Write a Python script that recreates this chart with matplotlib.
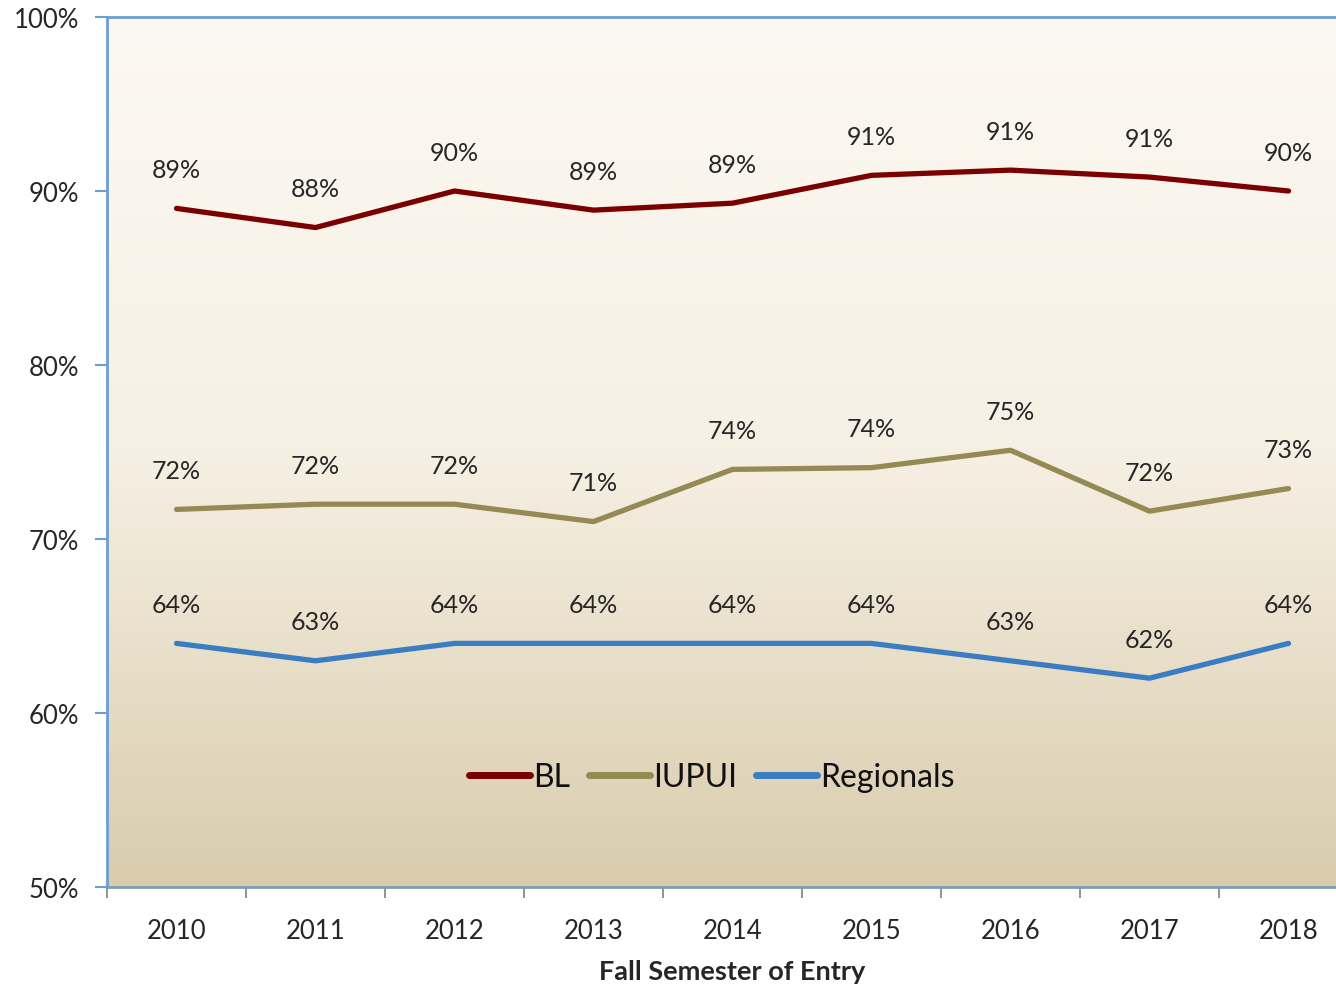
import matplotlib
matplotlib.use("Agg")
import matplotlib.pyplot as plt
import numpy as np
from matplotlib.colors import LinearSegmentedColormap

years = ["2010", "2011", "2012", "2013", "2014", "2015", "2016", "2017", "2018"]
bl = [89.0, 87.9, 90.0, 88.9, 89.3, 90.9, 91.2, 90.8, 90.0]
iupui = [71.7, 72.0, 72.0, 71.0, 74.0, 74.1, 75.1, 71.6, 72.9]
regionals = [64.0, 63.0, 64.0, 64.0, 64.0, 64.0, 63.0, 62.0, 64.0]
series_names = ["BL", "IUPUI", "Regionals"]
series_colors = ["#7b0000", "#948a54", "#3a7dc2"]

plt.rcParams['font.family'] = ['Lato', 'DejaVu Sans']

W, H = 1336, 987
fig = plt.figure(figsize=(W / 100, H / 100), dpi=100)
left_px, right_px, top_px, bot_px = 107, 1358, 18, 888
ax = fig.add_axes([left_px / W, 1 - bot_px / H, (right_px - left_px) / W, (bot_px - top_px) / H])

# gradient background
grad = np.linspace(0, 1, 256).reshape(-1, 1)
cmap = LinearSegmentedColormap.from_list("bg", ["#fcf9f2", "#f6f0e4", "#d9ccad"])
ax.imshow(grad, extent=[-0.5, 8.5, 50, 100], origin='upper', aspect='auto', cmap=cmap, zorder=0)
ax.set_xlim(-0.5, 8.5)
ax.set_ylim(50, 100)

x = np.arange(len(years))
for vals, name, col in zip([bl, iupui, regionals], series_names, series_colors):
    ax.plot(x, vals, color=col, lw=3.8, label=name, solid_capstyle='round', zorder=3)
    for xi, v in zip(x, vals):
        ax.annotate(f"{round(v):.0f}%", (xi, v), xytext=(0, 28), textcoords='offset points',
                    ha='center', va='center', fontsize=18, color='#262626', zorder=4)

ax.set_yticks([50, 60, 70, 80, 90, 100])
ax.set_yticklabels([f"{v}%" for v in [50, 60, 70, 80, 90, 100]], fontsize=18.5, color='#262626')
ax.set_xticks(x)
ax.set_xticklabels(years, fontsize=18.5, color='#262626')
ax.set_xticks(np.arange(-0.5, 9.0, 1.0), minor=True)
ax.tick_params(axis='x', which='major', length=0, pad=22)
ax.tick_params(axis='x', which='minor', length=8, color='#808080', width=1.2, direction='out')
ax.tick_params(axis='y', which='major', length=9, color='#6a9fd4', width=1.5, pad=11)

for s in ['left', 'top']:
    ax.spines[s].set_color('#6a9fd4')
    ax.spines[s].set_linewidth(2)
ax.spines['bottom'].set_color('#7f9bb8')
ax.spines['bottom'].set_linewidth(2)
ax.spines['right'].set_visible(False)

fig.text(732 / W, 1 - 972 / H, "Fall Semester of Entry", fontsize=19.5, fontweight='bold',
         color='#262626', ha='center', va='center')

leg = ax.legend(loc='center', bbox_to_anchor=((712 - left_px) / (right_px - left_px), (bot_px - 778) / (bot_px - top_px)),
                ncol=3, frameon=False, fontsize=23, handlelength=1.9, handletextpad=0.1, columnspacing=0.6)
for t in leg.get_texts():
    t.set_color('#111111')
for l in leg.get_lines():
    l.set_linewidth(5)

fig.savefig("out.png", dpi=100)
